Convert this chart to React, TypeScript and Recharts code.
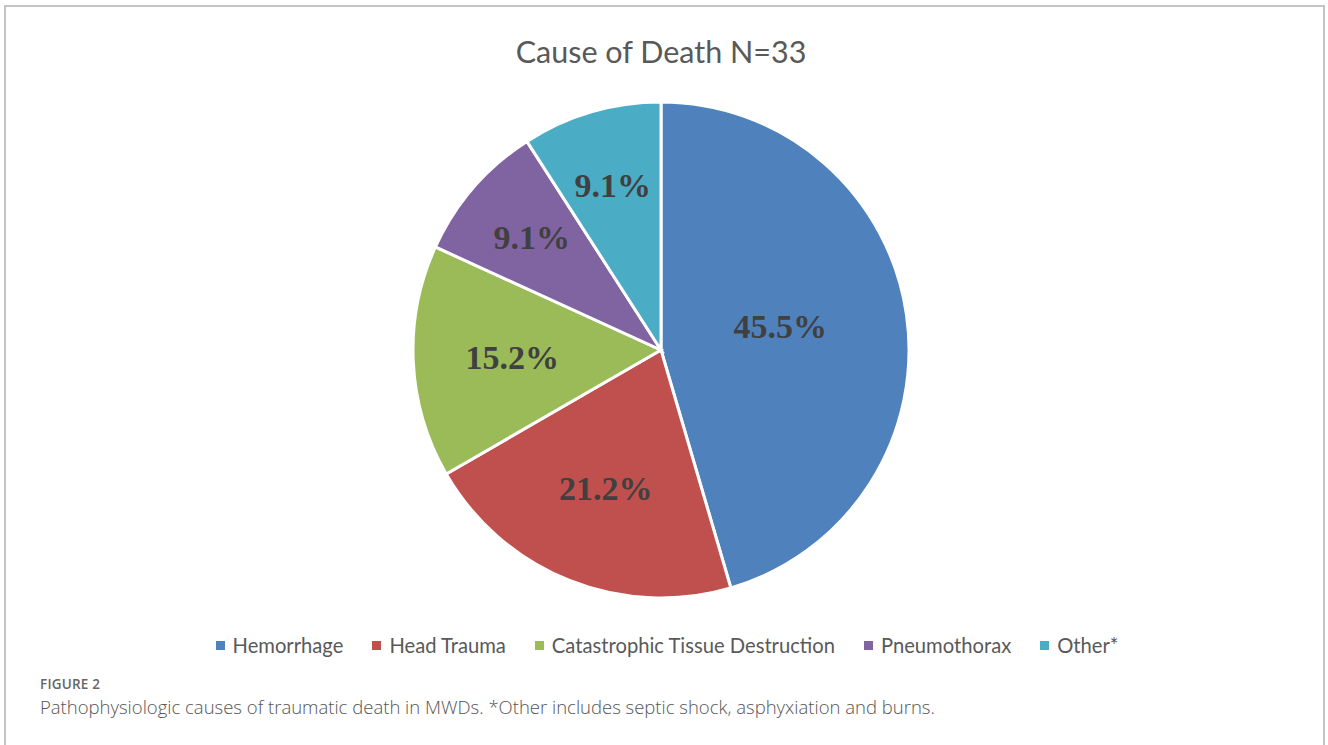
import React from "react";
import { PieChart, Pie, Cell, Legend } from "recharts";

const categories = ["Hemorrhage", "Head Trauma", "Catastrophic Tissue Destruction", "Pneumothorax", "Other*"];
const counts = [15, 7, 5, 3, 3];
const colors = ["#4F81BD", "#C0504D", "#9BBB59", "#8064A2", "#4BACC6"];
const title = "Cause of Death N=33";
const figureLabel = "FIGURE 2";
const caption = "Pathophysiologic causes of traumatic death in MWDs. *Other includes septic shock, asphyxiation and burns.";

const data = categories.map((name, i) => ({ name, value: counts[i] }));
const RADIAN = Math.PI / 180;

const renderLabel = (props: any) => {
  const { cx, cy, midAngle, outerRadius, percent } = props;
  const f = percent > 0.3 ? 0.49 : percent < 0.1 ? 0.69 : 0.6;
  const r = outerRadius * f;
  const ang = percent > 0.3 ? midAngle + 3 : midAngle;
  const x = cx + r * Math.cos(-ang * RADIAN);
  const y = cy + r * Math.sin(-ang * RADIAN);
  return (
    <text
      x={x}
      y={y}
      fill="#404040"
      textAnchor="middle"
      dominantBaseline="central"
      fontFamily="'Liberation Serif', 'Times New Roman', serif"
      fontWeight="bold"
      fontSize={34}
    >
      {(percent * 100).toFixed(1) + "%"}
    </text>
  );
};

const renderLegend = () => {
  return (
    <div style={{ display: "flex", justifyContent: "center", alignItems: "center", paddingLeft: 12, fontFamily: "Lato, 'Open Sans', sans-serif", fontSize: 20.2, color: "#595959" }}>
      {categories.map((name, i) => (
        <div key={name} style={{ display: "flex", alignItems: "center", marginLeft: i === 0 ? 0 : 29 }}>
          <span style={{ display: "inline-block", width: 9, height: 9, background: colors[i], marginRight: 8 }} />
          <span>{name}</span>
        </div>
      ))}
    </div>
  );
};

export default function App() {
  return (
    <div style={{ position: "absolute", left: 0, top: 0, width: 1328, height: 745, background: "#fff", overflow: "hidden" }}>
      <div style={{ position: "absolute", left: 4, top: 5, width: 1321, height: 760, border: "2px solid #c4c4c4", boxSizing: "border-box" }} />
      <div style={{ position: "absolute", left: 0, top: 33, width: 1322, textAlign: "center", fontFamily: "Lato, 'Open Sans', sans-serif", fontSize: 30.5, color: "#595959" }}>
        {title}
      </div>
      <div style={{ position: "absolute", left: 0, top: 0 }}>
        <PieChart width={1322} height={665} margin={{ top: 0, right: 0, bottom: 0, left: 0 }}>
          <Pie
            data={data}
            dataKey="value"
            nameKey="name"
            cx={661}
            cy={350}
            outerRadius={248}
            startAngle={90}
            endAngle={-270}
            stroke="#ffffff"
            strokeWidth={3}
            label={renderLabel}
            labelLine={false}
            isAnimationActive={false}
          >
            {data.map((d, i) => (
              <Cell key={d.name} fill={colors[i]} />
            ))}
          </Pie>
          <Legend
            verticalAlign="bottom"
            align="center"
            content={renderLegend}
            wrapperStyle={{ top: 633, left: 0, width: 1322 }}
          />
        </PieChart>
      </div>
      <div style={{ position: "absolute", left: 40, top: 675, fontFamily: "'Open Sans', sans-serif", fontSize: 13.5, letterSpacing: 0.2, color: "#666", fontWeight: 600 }}>
        {figureLabel}
      </div>
      <div style={{ position: "absolute", left: 40, top: 694, fontFamily: "'Open Sans', sans-serif", fontSize: 18.5, color: "#555", fontWeight: 300 }}>
        {caption}
      </div>
    </div>
  );
}
